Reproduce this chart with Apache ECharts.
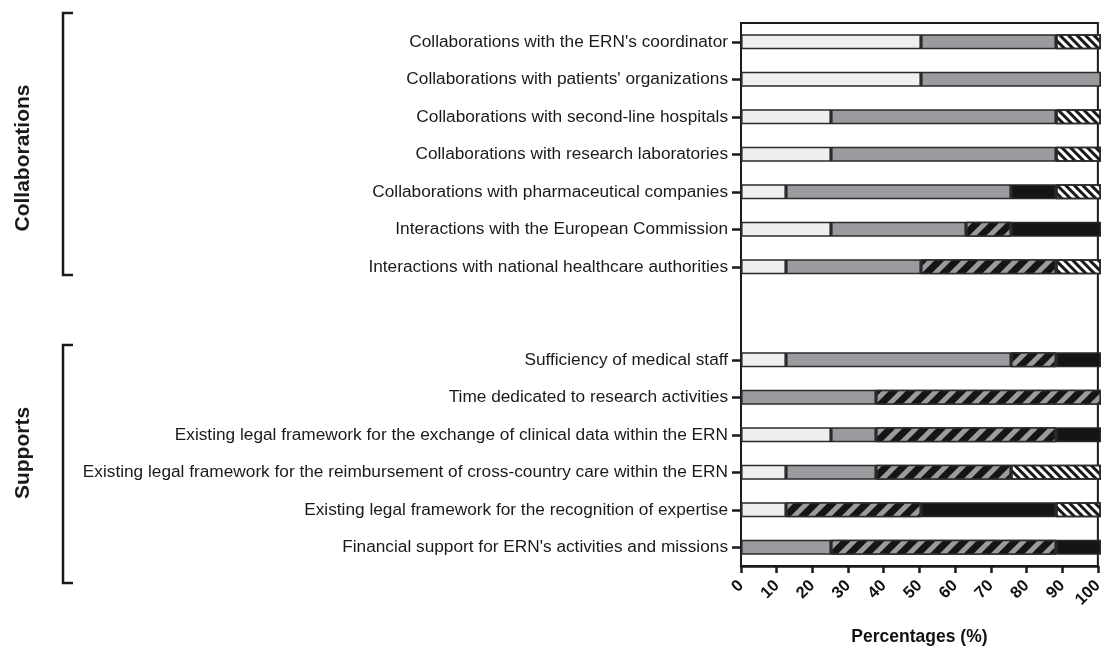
<!DOCTYPE html>
<html><head><meta charset="utf-8">
<script src="https://cdn.jsdelivr.net/npm/echarts@6/dist/echarts.min.js"></script>
<style>html,body{margin:0;padding:0;background:#fff}#c{width:1106px;height:655px}</style>
</head><body><div id="c"></div>
<script>
// Categories
var collabCats = [
  "Collaborations with the ERN's coordinator",
  "Collaborations with patients' organizations",
  "Collaborations with second-line hospitals",
  "Collaborations with research laboratories",
  "Collaborations with pharmaceutical companies",
  "Interactions with the European Commission",
  "Interactions with national healthcare authorities"
];
var supportCats = [
  "Sufficiency of medical staff",
  "Time dedicated to research activities",
  "Existing legal framework for the exchange of clinical data within the ERN",
  "Existing legal framework for the reimbursement of cross-country care within the ERN",
  "Existing legal framework for the recognition of expertise",
  "Financial support for ERN's activities and missions"
];
var groupNames = ["Collaborations", "Supports"];
var xTicks = [0, 10, 20, 30, 40, 50, 60, 70, 80, 90, 100];
var xTitle = "Percentages (%)";

// Response levels (stack order)
var levels = ["Very good", "Good", "Insufficient", "Very insufficient", "Not applicable"];

// Collaborations values (%)
var collabLevel1 = [50, 50, 25, 25, 12.5, 25, 12.5];
var collabLevel2 = [37.5, 50, 62.5, 62.5, 62.5, 37.5, 37.5];
var collabLevel3 = [0, 0, 0, 0, 0, 12.5, 37.5];
var collabLevel4 = [0, 0, 0, 0, 12.5, 25, 0];
var collabLevel5 = [12.5, 0, 12.5, 12.5, 12.5, 0, 12.5];

// Supports values (%)
var supportLevel1 = [12.5, 0, 25, 12.5, 12.5, 0];
var supportLevel2 = [62.5, 37.5, 12.5, 25, 0, 25];
var supportLevel3 = [12.5, 62.5, 50, 37.5, 37.5, 62.5];
var supportLevel4 = [12.5, 0, 12.5, 0, 37.5, 12.5];
var supportLevel5 = [0, 0, 0, 25, 12.5, 0];

var collabData = [collabLevel1, collabLevel2, collabLevel3, collabLevel4, collabLevel5];
var supportData = [supportLevel1, supportLevel2, supportLevel3, supportLevel4, supportLevel5];

var FONT = "Liberation Sans, Arial, Helvetica, sans-serif";
var border = {borderColor: '#2a2a2a', borderWidth: 1.6};
var styles = [
  {color: '#efeff0'},
  {color: '#9a9b9e'},
  {color: '#151515', decal: {symbol: 'rect', symbolSize: 1, dashArrayX: [1, 0], dashArrayY: [5, 7], rotation: -Math.PI / 4, color: '#9a9b9e'}},
  {color: '#151515'},
  {color: '#ffffff', decal: {symbol: 'rect', symbolSize: 1, dashArrayX: [1, 0], dashArrayY: [2.4, 2.8], rotation: Math.PI / 4, color: '#1a1a1a'}}
];

function clean(arr) { return arr.map(function (v) { return v === 0 ? null : v; }); }

var L = 741, R = 5;
var series = [];
[collabData, supportData].forEach(function (grp, gi) {
  grp.forEach(function (vals, li) {
    series.push({
      name: levels[li], type: 'bar', stack: 'g' + gi,
      xAxisIndex: gi + 1, yAxisIndex: gi + 1,
      barWidth: 15,
      itemStyle: Object.assign({}, styles[li], border),
      data: clean(vals),
      silent: true
    });
  });
});

var labelStyle = {color: '#1a1a1a', fontSize: 17.25, fontFamily: FONT, margin: 13};
var option = {
  animation: false,
  backgroundColor: '#fff',
  grid: [
    {left: L, right: R, top: 23, height: 543, show: true, borderColor: '#1a1a1a', borderWidth: 2, backgroundColor: 'transparent'},
    {left: L, right: R, top: 23, height: 262.5},
    {left: L, right: R, top: 341, height: 225}
  ],
  xAxis: [
    {gridIndex: 0, type: 'value', min: 0, max: 100, interval: 10,
     splitLine: {show: false},
     axisLine: {show: true, lineStyle: {color: '#1a1a1a', width: 2.5}},
     axisTick: {show: true, length: 7, lineStyle: {color: '#1a1a1a', width: 2.5}},
     axisLabel: {rotate: 45, fontWeight: 'bold', fontSize: 16.5, color: '#111', fontFamily: FONT, margin: 17,
       formatter: function (v) { return xTicks.indexOf(v) >= 0 ? String(v) : ''; }},
     name: xTitle, nameLocation: 'middle', nameGap: 62,
     nameTextStyle: {fontWeight: 'bold', fontSize: 17.5, color: '#111', fontFamily: FONT}},
    {gridIndex: 1, type: 'value', min: 0, max: 100, show: false},
    {gridIndex: 2, type: 'value', min: 0, max: 100, show: false}
  ],
  yAxis: [
    {gridIndex: 0, type: 'value', show: false},
    {gridIndex: 1, type: 'category', inverse: true, data: collabCats,
     axisLine: {show: false},
     axisTick: {show: true, alignWithLabel: true, length: 9, lineStyle: {color: '#1a1a1a', width: 2.5}},
     axisLabel: labelStyle},
    {gridIndex: 2, type: 'category', inverse: true, data: supportCats,
     axisLine: {show: false},
     axisTick: {show: true, alignWithLabel: true, length: 9, lineStyle: {color: '#1a1a1a', width: 2.5}},
     axisLabel: labelStyle}
  ],
  graphic: [
    {type: 'polyline', shape: {points: [[73, 13], [63, 13], [63, 275], [73, 275]]}, style: {stroke: '#1a1a1a', lineWidth: 2.5, fill: null}},
    {type: 'polyline', shape: {points: [[73, 345], [63, 345], [63, 583], [73, 583]]}, style: {stroke: '#1a1a1a', lineWidth: 2.5, fill: null}},
    {type: 'text', x: 23, y: 158, rotation: Math.PI / 2, style: {text: groupNames[0], font: 'bold 21px ' + FONT, fill: '#1a1a1a', textAlign: 'center', textVerticalAlign: 'middle'}},
    {type: 'text', x: 23, y: 453, rotation: Math.PI / 2, style: {text: groupNames[1], font: 'bold 21px ' + FONT, fill: '#1a1a1a', textAlign: 'center', textVerticalAlign: 'middle'}}
  ],
  series: series
};
var chart = echarts.init(document.getElementById('c'), null, {renderer: 'canvas'});
chart.setOption(option);
</script></body></html>
